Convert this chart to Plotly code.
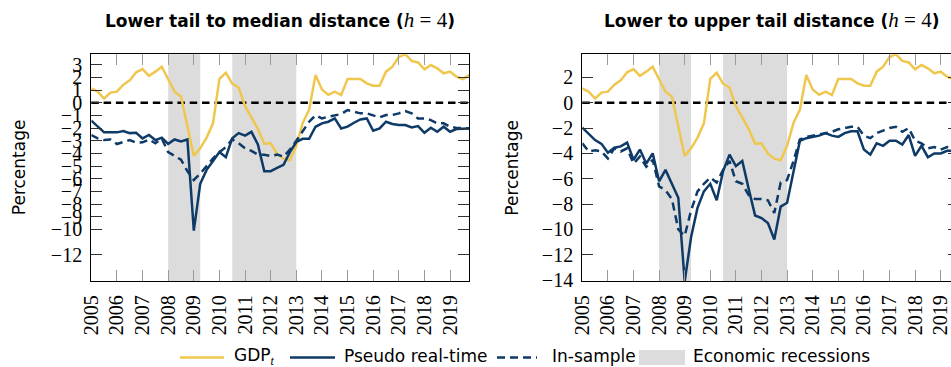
import plotly.graph_objects as go

# Quarterly dates 2005Q1 .. 2019Q4
quarters = [y + q / 4 for y in range(2005, 2020) for q in range(4)]
year_ticks = list(range(2005, 2020))

# Economic recessions (start, end)
recessions = [(2008.0, 2009.25), (2010.5, 2013.0)]

# Annual GDP growth (%)
gdp = [1.13, 0.87, 0.34, 0.80, 0.87, 1.43, 1.76, 2.40, 2.65, 2.12, 2.45, 2.84,
       1.85, 0.87, 0.50, -1.85, -4.20, -3.60, -2.75, -1.63, 1.88, 2.36, 1.50, 1.20,
       -0.28, -1.15, -2.08, -3.24, -3.20, -4.02, -4.42, -4.55, -3.40, -1.60, -0.55, 2.18,
       1.05, 0.62, 0.87, 0.60, 1.87, 1.87, 1.87, 1.53, 1.34, 1.34, 2.45, 2.84,
       3.60, 3.84, 3.30, 3.18, 2.63, 2.97, 2.71, 2.32, 2.45, 2.05, 1.87, 2.18]

# Lower tail to median distance
ltm_realtime = [-1.42, -1.85, -2.34, -2.34, -2.34, -2.24, -2.40, -2.37, -2.82, -2.55, -2.95, -2.76,
                -3.25, -2.90, -3.05, -2.90, -10.1, -6.4, -5.3, -4.6, -3.9, -4.3, -2.8, -2.4,
                -2.6, -2.3, -3.3, -5.4, -5.4, -5.15, -4.9, -3.9, -3.1, -2.85, -2.85, -1.9,
                -1.63, -1.5, -1.24, -2.03, -1.89, -1.58, -1.32, -1.24, -2.21, -2.03, -1.5, -1.68,
                -1.76, -1.76, -1.95, -1.84, -2.37, -1.97, -2.29, -1.89, -2.29, -2.08, -2.08, -2.03]
ltm_insample = [-2.55, -2.82, -2.95, -2.9, -3.26, -3.08, -2.95, -3.16, -3.13, -2.9, -3.2, -2.82,
                -3.9, -4.2, -4.5, -5.4, -6.1, -5.6, -5.0, -4.4, -3.9, -3.5, -2.9, -3.2,
                -3.6, -3.8, -4.1, -4.1, -4.2, -4.1, -4.25, -3.7, -3.0, -2.3, -1.5, -1.0,
                -1.24, -1.1, -0.97, -0.9, -0.58, -0.71, -0.84, -0.84, -1.0, -1.16, -0.97, -0.97,
                -0.84, -0.66, -0.84, -1.24, -1.24, -1.37, -1.63, -1.63, -1.89, -2.0, -2.0, -2.03]

# Lower to upper tail distance
ltu_realtime = [-1.97, -2.45, -2.95, -3.25, -3.95, -3.55, -3.45, -3.15, -4.5, -3.7, -4.8, -4.0,
                -6.2, -5.3, -6.4, -7.5, -14.1, -10.6, -8.3, -7.0, -6.4, -7.7, -5.4, -4.1,
                -5.0, -4.6, -6.8, -8.9, -9.1, -9.5, -10.8, -8.2, -7.9, -5.4, -3.0, -2.8,
                -2.7, -2.6, -2.4, -2.6, -2.7, -2.4, -2.25, -2.25, -3.7, -4.1, -3.2, -3.4,
                -3.0, -3.0, -3.3, -2.55, -4.2, -3.4, -4.3, -4.0, -4.0, -3.8, -3.8, -4.1]
ltu_insample = [-3.2, -3.85, -3.75, -3.85, -4.4, -3.6, -3.85, -3.6, -4.8, -4.25, -5.05, -4.5,
                -6.6, -6.9, -7.6, -10.0, -10.5, -8.5, -7.0, -6.4, -5.9, -6.3, -5.3, -4.6,
                -6.2, -6.4, -7.3, -7.6, -7.6, -7.7, -8.7, -6.3, -6.1, -4.6, -2.9, -2.7,
                -2.6, -2.5, -2.4, -2.3, -2.1, -2.0, -1.9, -1.9, -2.6, -2.8, -2.4, -2.2,
                -2.0, -1.9, -2.3, -2.0, -3.0, -3.2, -3.6, -3.5, -3.7, -3.5, -3.6, -3.7]

left_yticks = [3, 2, 1, 0, -1, -2, -3, -4, -5, -6, -7, -8, -9, -10, -12]
right_yticks = [2, 0, -2, -4, -6, -8, -10, -12, -14]

GOLD = "#F0C74E"
NAVY = "#0E3A67"
SHADE = "#DCDCDC"
LW = 2.5

W, H = 951, 367


def px(x):
    return x / W


def py(y):
    return 1 - y / H


def minus(v):
    return str(v).replace("-", "\u2212")


fig = go.Figure()

panels = [("x", "y", ltm_realtime, ltm_insample), ("x2", "y2", ltu_realtime, ltu_insample)]
for xa, ya, rt, ins in panels:
    fig.add_trace(go.Scatter(x=quarters, y=gdp, mode="lines", xaxis=xa, yaxis=ya,
                             line=dict(color=GOLD, width=LW), name="GDP"))
    fig.add_trace(go.Scatter(x=quarters, y=rt, mode="lines", xaxis=xa, yaxis=ya,
                             line=dict(color=NAVY, width=LW), name="Pseudo real-time"))
    fig.add_trace(go.Scatter(x=quarters, y=ins, mode="lines", xaxis=xa, yaxis=ya,
                             line=dict(color=NAVY, width=LW, dash="8px,5px"), name="In-sample"))

# right-hand tick stubs of the second panel
fig.add_trace(go.Scatter(x=[], y=[], xaxis="x2", yaxis="y3", showlegend=False))

shapes = []
for xa, ya in [("x", "y"), ("x2", "y2")]:
    for s, e in recessions:
        shapes.append(dict(type="rect", xref=xa, yref=f"{ya} domain", x0=s, x1=e, y0=0, y1=1,
                           fillcolor=SHADE, line=dict(width=0), layer="below"))
    shapes.append(dict(type="line", xref=f"{xa} domain", yref=ya, x0=0, x1=1, y0=0, y1=0,
                       line=dict(color="black", width=2.6, dash="7.5px,4.8px"), layer="below"))

serif = "Liberation Serif"
sans = "DejaVu Sans"
tickfont = dict(family=serif, size=20, color="black")
ydom = [py(281), py(54.3)]
yrange = [-14.07, 3.82]

common_x = dict(tickvals=year_ticks, ticktext=[str(y) for y in year_ticks], tickangle=-90,
                ticks="inside", ticklen=11, tickcolor="#9a9a9a", tickwidth=1,
                showline=True, linecolor="black", linewidth=1.3, mirror="ticks",
                showgrid=False, zeroline=False, tickfont=tickfont, ticklabelstandoff=5,
                ticklabeloverflow="allow", automargin=False)
common_y = dict(range=yrange, domain=ydom, ticks="inside", ticklen=11, tickcolor="#333",
                tickwidth=1, showline=True, linecolor="black", linewidth=1.3,
                showgrid=False, zeroline=False, tickfont=tickfont, ticklabelstandoff=4,
                ticklabeloverflow="allow", automargin=False)

fig.update_layout(
    template="none",
    width=W, height=H, margin=dict(l=0, r=0, t=0, b=0, pad=0),
    plot_bgcolor="white", paper_bgcolor="white", showlegend=False,
    xaxis=dict(domain=[px(91.3), px(469.3)], range=[2005, 2019.75], anchor="y", **common_x),
    yaxis=dict(anchor="x", mirror="ticks", tickvals=left_yticks,
               ticktext=[minus(v) for v in left_yticks], **common_y),
    xaxis2=dict(domain=[px(582.3), 1.0], range=[2005, 2005 + (W - 582.3) / 25.6], anchor="y2",
                **common_x),
    yaxis2=dict(anchor="x2", mirror=False, tickvals=right_yticks,
                ticktext=[minus(v) for v in right_yticks], **common_y),
    yaxis3=dict(overlaying="y2", anchor="x2", side="right", range=yrange,
                tickvals=right_yticks, ticks="inside", ticklen=3, tickcolor="#333",
                showticklabels=False, showline=False, showgrid=False, zeroline=False,
                automargin=False),
)

ann = []
h4 = f"<span style='font-family:{serif};font-size:21px;font-weight:normal'><i>h</i> = 4</span>"
ann.append(dict(text=f"<b>Lower tail to median distance (</b>{h4}<b>)</b>",
                x=px(280.3), y=py(20), xref="paper", yref="paper", showarrow=False,
                xanchor="center", yanchor="middle", font=dict(family=sans, size=17, color="black")))
ann.append(dict(text=f"<b>Lower to upper tail distance (</b>{h4}<b>)</b>",
                x=px(771), y=py(20), xref="paper", yref="paper", showarrow=False,
                xanchor="center", yanchor="middle", font=dict(family=sans, size=17, color="black")))
for xc in (18.5, 512):
    ann.append(dict(text="Percentage", x=px(xc), y=py(167.7), xref="paper", yref="paper",
                    showarrow=False, textangle=-90, xanchor="center", yanchor="middle",
                    font=dict(family=sans, size=17, color="black")))

# legend row
ly = 357.5
leg_lines = [(180, 224, GOLD, "solid"), (290, 335, NAVY, "solid"), (497, 537, NAVY, "8px,5px")]
for x0, x1, col, dash in leg_lines:
    shapes.append(dict(type="line", xref="paper", yref="paper", x0=px(x0), x1=px(x1),
                       y0=py(ly), y1=py(ly), line=dict(color=col, width=LW, dash=dash)))
shapes.append(dict(type="rect", xref="paper", yref="paper", x0=px(639), x1=px(685),
                   y0=py(365), y1=py(350), fillcolor=SHADE, line=dict(width=0)))
leg_text = [(232, f"GDP<sub><span style='font-family:{serif}'><i>t</i></span></sub>"),
            (342, "Pseudo real-time"), (550, "In-sample"), (691, "Economic recessions")]
for x0, t in leg_text:
    ann.append(dict(text=t, x=px(x0), y=py(356), xref="paper", yref="paper", showarrow=False,
                    xanchor="left", yanchor="middle", font=dict(family=sans, size=17, color="black")))

fig.update_layout(annotations=ann, shapes=shapes)
fig.write_html("out.html")
